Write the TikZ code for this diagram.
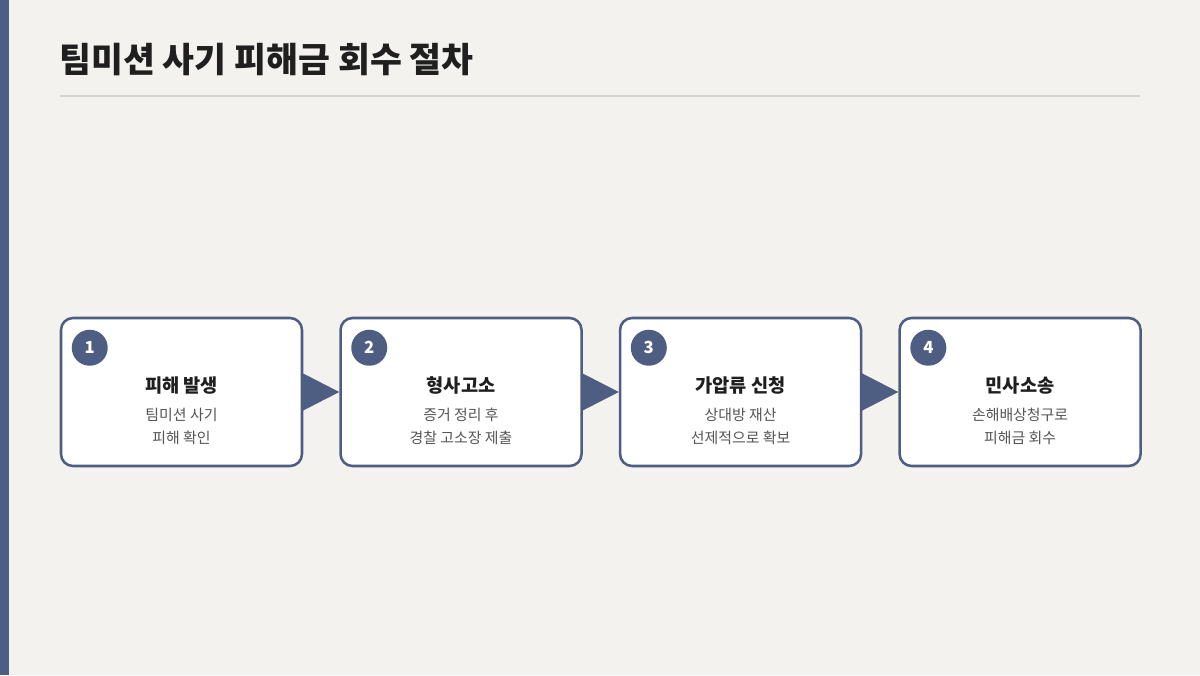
\documentclass[tikz,border=0pt]{standalone}
\usepackage{fontspec}
\setmainfont{Noto Sans CJK KR}
\usetikzlibrary{positioning}
\definecolor{navy}{HTML}{4E5D82}
\definecolor{paper}{HTML}{F4F2EE}
\definecolor{rule}{HTML}{D8D5CF}
\definecolor{ink}{HTML}{1F1F1F}
\definecolor{soft}{HTML}{555555}

\begin{document}
\begin{tikzpicture}[x=0.75pt,y=-0.75pt,box/.style={draw=navy,line width=1.9pt,fill=white,rounded corners=9pt,minimum width=180.75pt,minimum height=111pt,inner sep=0pt},badge/.style={circle,fill=navy,inner sep=0pt,minimum size=27pt,text=white,font=\bfseries\fontsize{12.5}{12.5}\selectfont},head/.style={text=ink,font=\bfseries\fontsize{14}{14}\selectfont,inner sep=0pt},desc/.style={text=soft,align=center,font=\fontsize{11.2}{17.25}\selectfont,inner sep=0pt},tip/.style={fill=navy}]
	\fill[paper] (0,0) rectangle (1200,675);
	\fill[navy] (0,0) rectangle (9,675);
	\node[anchor=west,text=ink,font=\bfseries\fontsize{26}{26}\selectfont,inner sep=0pt]	(t)	at (59,60)	{팀미션 사기 피해금 회수 절차};
	\draw[rule,line width=1.5pt] (60,96) -- (1140,96);

	\node[box]								(s1)	at (181.5,392)	{};
	\node[box,node distance=27pt,right=of s1]	(s2)	{};
	\node[box,node distance=27pt,right=of s2]	(s3)	{};
	\node[box,node distance=27pt,right=of s3]	(s4)	{};

	\node[badge]	(n1)	at ([shift={(30,31)}]s1.north west)	{1};
	\node[badge]	(n2)	at ([shift={(30,31)}]s2.north west)	{2};
	\node[badge]	(n3)	at ([shift={(30,31)}]s3.north west)	{3};
	\node[badge]	(n4)	at ([shift={(30,31)}]s4.north west)	{4};

	\node[head]	(h1)	at ([yshift=5]s1.center)	{피해 발생};
	\node[head]	(h2)	at ([yshift=5]s2.center)	{형사고소};
	\node[head]	(h3)	at ([yshift=5]s3.center)	{가압류 신청};
	\node[head]	(h4)	at ([yshift=5]s4.center)	{민사소송};

	\node[desc]	(d1)	at ([yshift=-25.9]s1.center)	{팀미션 사기\\피해 확인};
	\node[desc]	(d2)	at ([yshift=-25.9]s2.center)	{증거 정리 후\\경찰 고소장 제출};
	\node[desc]	(d3)	at ([yshift=-25.9]s3.center)	{상대방 재산\\선제적으로 확보};
	\node[desc]	(d4)	at ([yshift=-25.9]s4.center)	{손해배상청구로\\피해금 회수};

	\fill[tip] ([shift={(-1,19)}]s1.east) -- ([shift={(-1,-19)}]s1.east) -- (s2.west) -- cycle;
	\fill[tip] ([shift={(-1,19)}]s2.east) -- ([shift={(-1,-19)}]s2.east) -- (s3.west) -- cycle;
	\fill[tip] ([shift={(-1,19)}]s3.east) -- ([shift={(-1,-19)}]s3.east) -- (s4.west) -- cycle;
\end{tikzpicture}
\end{document}
